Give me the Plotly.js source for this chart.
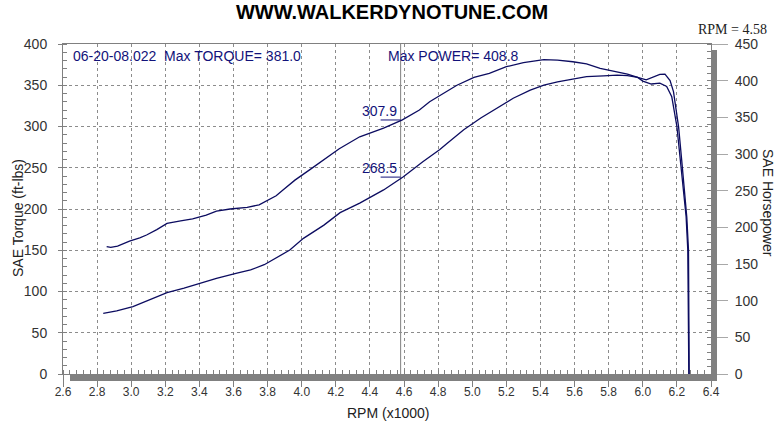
<!DOCTYPE html>
<html><head><meta charset="utf-8">
<script src="https://cdn.plot.ly/plotly-3.0.1.min.js"></script>
<style>html,body{margin:0;padding:0;background:#fff}#chart{width:781px;height:424px}</style>
</head><body><div id="chart"></div>
<script>
// ---- data ----
const torqueRpm = [2.856, 2.88, 2.92, 2.99, 3.05, 3.09, 3.15, 3.21, 3.29, 3.36, 3.44, 3.50, 3.58, 3.68, 3.75, 3.80, 3.85, 3.89, 3.96, 4.05, 4.13, 4.22, 4.34, 4.48, 4.59, 4.69, 4.75, 4.83, 4.91, 5.01, 5.10, 5.20, 5.30, 5.42, 5.50, 5.59, 5.67, 5.75, 5.83, 5.91, 5.97, 6.00, 6.05, 6.10, 6.14, 6.17, 6.20, 6.22, 6.238, 6.254, 6.264, 6.27];
const torqueFtLbs = [154.5, 153.5, 155, 161, 165, 168.5, 175, 182.5, 185.5, 188, 192.5, 197.5, 200, 202, 205, 210, 216, 223, 235, 248, 260, 273, 287.5, 298, 308, 320, 330, 340, 350, 359.5, 364.5, 372.5, 377.5, 381, 380.5, 378.5, 376, 370.5, 367, 363.5, 359.5, 355, 351.5, 352.5, 348.5, 336, 300, 259, 219, 191, 150, 0];
const powerRpm = [2.836, 2.915, 3.01, 3.11, 3.21, 3.31, 3.40, 3.50, 3.62, 3.70, 3.78, 3.85, 3.93, 4.01, 4.13, 4.225, 4.34, 4.48, 4.596, 4.71, 4.81, 4.85, 4.95, 5.05, 5.14, 5.24, 5.34, 5.42, 5.50, 5.59, 5.67, 5.77, 5.85, 5.91, 5.97, 6.02, 6.06, 6.10, 6.13, 6.16, 6.18, 6.21, 6.228, 6.248, 6.258, 6.268, 6.272];
const powerHp = [82.7, 86, 92, 101, 111, 117, 123.5, 130.5, 137.5, 142, 149, 158, 169, 185, 203, 220, 233, 251, 269, 289.5, 306, 314, 333, 349, 362, 376, 387, 394, 398.5, 402.5, 405.5, 406.5, 407.5, 407, 404.5, 401, 404.5, 408.5, 408.8, 400, 385, 337, 292, 246, 214, 169, 0];

const cursorRpm = 4.58;
const cursorTorque = 307.9;
const cursorPower = 268.5;
const maxTorque = 381.0;
const maxPower = 408.8;
const runLabel = '06-20-08.022';
const titleText = 'WWW.WALKERDYNOTUNE.COM';
const xTitle = 'RPM (x1000)';
const yTitle = 'SAE Torque (ft-lbs)';
const y2Title = 'SAE Horsepower';

// ---- layout helpers (pixel -> paper) ----
const L = 63, R = 711, T = 44, B = 374;
const px = x => (x - L) / (R - L);
const py = y => (B - y) / (B - T);
const navy = '#12127a';
const lineCol = '#0c0c60';
const grey = '#808080';
const sans = 'Arial, "Liberation Sans", sans-serif';

const traces = [
  {x: torqueRpm, y: torqueFtLbs, type: 'scatter', mode: 'lines', yaxis: 'y',
   line: {color: lineCol, width: 1.3}, hoverinfo: 'skip'},
  {x: powerRpm, y: powerHp, type: 'scatter', mode: 'lines', yaxis: 'y2',
   line: {color: lineCol, width: 1.3}, hoverinfo: 'skip'}
];

const leader = 20 / ((R - L) / 3.8);

const layout = {
  width: 781, height: 424,
  margin: {l: L, r: 781 - R, t: T, b: 424 - B, pad: 0},
  paper_bgcolor: '#fff', plot_bgcolor: '#fff', showlegend: false,
  title: {text: '<b>' + titleText + '</b>', font: {family: sans, size: 20, color: '#000'},
          xref: 'container', x: 392 / 781, xanchor: 'center', yref: 'container', y: 1 - 12 / 424, yanchor: 'middle'},
  xaxis: {range: [2.6, 6.4], tick0: 2.6, dtick: 0.2, tickformat: '.1f',
          showgrid: true, gridcolor: '#8c8c8c', griddash: '3px,3px', gridwidth: 1,
          zeroline: false, showline: true, linecolor: grey, linewidth: 1, mirror: true,
          ticks: 'outside', ticklen: 12, tickcolor: grey,
          tickfont: {family: sans, size: 12, color: '#333'}, ticklabelstandoff: -5,
          minor: {dtick: 0.04, ticks: 'inside', ticklen: 4, tickcolor: grey, showgrid: false},
          fixedrange: true},
  yaxis: {range: [0, 400], dtick: 50,
          showgrid: true, gridcolor: '#8c8c8c', griddash: '3px,3px', gridwidth: 1,
          zeroline: false, showline: true, linecolor: grey, linewidth: 1,
          ticks: 'outside', ticklen: 4, tickcolor: grey,
          tickfont: {family: sans, size: 14, color: '#333'}, ticklabelstandoff: 8,
          minor: {dtick: 10, ticks: 'inside', ticklen: 4, tickcolor: grey, showgrid: false},
          fixedrange: true},
  yaxis2: {range: [0, 450], dtick: 50, overlaying: 'y', side: 'right',
           showgrid: false, zeroline: false, showline: true, linecolor: grey, linewidth: 1,
           ticks: 'outside', ticklen: 16, tickcolor: '#a8a8a8',
           tickfont: {family: sans, size: 14, color: '#333'}, ticklabelstandoff: 4,
           minor: {dtick: 10, ticks: 'inside', ticklen: 4, tickcolor: grey, showgrid: false},
           fixedrange: true},
  shapes: [
    {type: 'line', xref: 'x', yref: 'paper', x0: cursorRpm, x1: cursorRpm, y0: 0, y1: 1,
     line: {color: grey, width: 1}, layer: 'below'},
    {type: 'line', xref: 'x', yref: 'y', x0: cursorRpm - leader, x1: cursorRpm, y0: cursorTorque, y1: cursorTorque,
     line: {color: navy, width: 1}},
    {type: 'line', xref: 'x', yref: 'y2', x0: cursorRpm - leader, x1: cursorRpm, y0: cursorPower, y1: cursorPower,
     line: {color: navy, width: 1}},
    {type: 'rect', xref: 'paper', yref: 'paper', x0: px(70), x1: px(717), y0: py(381), y1: py(375),
     fillcolor: grey, line: {width: 0}, layer: 'above'},
    {type: 'rect', xref: 'paper', yref: 'paper', x0: px(711), x1: px(717), y0: py(381), y1: py(50),
     fillcolor: grey, line: {width: 0}, layer: 'above'}
  ],
  annotations: [
    {xref: 'paper', yref: 'paper', x: px(71), y: py(56), xanchor: 'left', yanchor: 'middle', showarrow: false,
     text: runLabel + '\u00a0\u00a0Max TORQUE= ' + maxTorque.toFixed(1), font: {family: sans, size: 14, color: navy}},
    {xref: 'paper', yref: 'paper', x: px(386), y: py(56), xanchor: 'left', yanchor: 'middle', showarrow: false,
     text: 'Max POWER= ' + maxPower.toFixed(1), font: {family: sans, size: 14, color: navy}},
    {xref: 'x', yref: 'y', x: cursorRpm, y: cursorTorque, xanchor: 'right', yanchor: 'bottom', xshift: -2, yshift: -1,
     showarrow: false, text: cursorTorque.toFixed(1), font: {family: sans, size: 14, color: navy}},
    {xref: 'x', yref: 'y2', x: cursorRpm, y: cursorPower, xanchor: 'right', yanchor: 'bottom', xshift: -2, yshift: -1,
     showarrow: false, text: cursorPower.toFixed(1), font: {family: sans, size: 14, color: navy}},
    {xref: 'paper', yref: 'paper', x: px(769), y: py(30), xanchor: 'right', yanchor: 'middle', showarrow: false,
     text: 'RPM = ' + cursorRpm.toFixed(2), font: {family: '"Liberation Serif", "Times New Roman", serif', size: 14, color: '#222'}},
    {xref: 'paper', yref: 'paper', x: px(18), y: py(218), xanchor: 'center', yanchor: 'middle', showarrow: false,
     textangle: -90, text: yTitle, font: {family: sans, size: 14, color: '#222'}},
    {xref: 'paper', yref: 'paper', x: px(768), y: py(203), xanchor: 'center', yanchor: 'middle', showarrow: false,
     textangle: 90, text: y2Title, font: {family: sans, size: 14, color: '#222'}},
    {xref: 'paper', yref: 'paper', x: px(388), y: py(413), xanchor: 'center', yanchor: 'middle', showarrow: false,
     text: xTitle, font: {family: sans, size: 14, color: '#222'}}
  ]
};

Plotly.newPlot('chart', traces, layout, {staticPlot: true, displayModeBar: false});
</script>
</body></html>
